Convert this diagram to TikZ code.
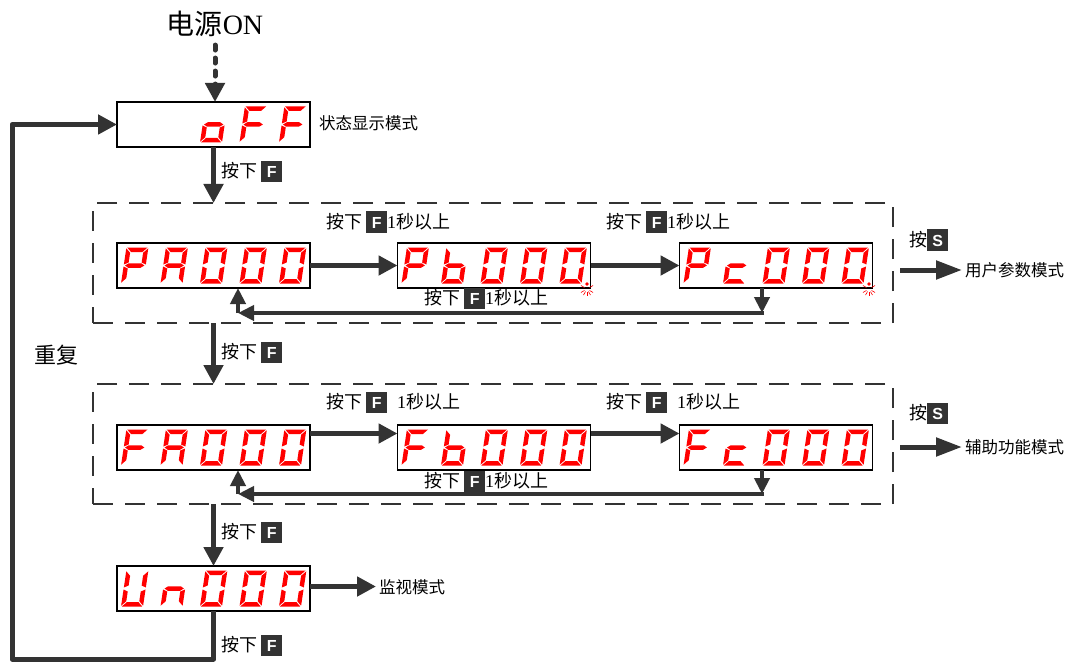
\documentclass[tikz,border=0pt]{standalone}
\usepackage{fontspec}
\setmainfont{Liberation Serif}
\newfontfamily\cjk{Noto Sans CJK SC}
\newfontfamily\keyfont{Liberation Sans}
\usetikzlibrary{arrows.meta}
\definecolor{dk}{HTML}{333333}
\definecolor{segred}{HTML}{FF0000}
\newcommand\key[1]{\textcolor{dk}{\rule[-4.5pt]{21pt}{21pt}}\llap{\makebox[21pt]{\color{white}\keyfont\bfseries\fontsize{16}{16}\selectfont #1}}}
% seven segments, local units: W=22, H=36, T=4.5
\newcommand\sga{\fill[segred] (0.8,36)--(21.2,36)--(16.7,31.5)--(5.3,31.5)--cycle;}
\newcommand\sgd{\fill[segred] (0.8,0)--(21.2,0)--(16.7,4.5)--(5.3,4.5)--cycle;}
\newcommand\sgf{\fill[segred] (0,35.2)--(4.5,30.7)--(4.5,21)--(0,19)--cycle;}
\newcommand\sge{\fill[segred] (0,0.8)--(4.5,5.3)--(4.5,15)--(0,17)--cycle;}
\newcommand\sgb{\fill[segred] (22,35.2)--(17.5,30.7)--(17.5,21)--(22,19)--cycle;}
\newcommand\sgc{\fill[segred] (22,0.8)--(17.5,5.3)--(17.5,15)--(22,17)--cycle;}
\newcommand\sgg{\fill[segred] (1.3,18)--(4.8,20.25)--(17.2,20.25)--(20.7,18)--(17.2,15.75)--(4.8,15.75)--cycle;}
% \dig{box left}{box bottom}{position}{segments}
\newcommand\dig[4]{\begin{scope}[shift={(#1+4+39.5*#3,#2-4.5)},x=1pt,y=1pt,xslant=0.15]
  \foreach \s in {#4}{\csname sg\s\endcsname}\end{scope}}
\newcommand\flash[2]{\fill[segred] (#1,#2) circle (1.8pt);
  \foreach \a in {30,60,90,120,150,210,330}{\draw[segred,line width=0.6pt] ([shift={(\a:3)}]#1,#2+5) -- ([shift={(\a:7)}]#1,#2+5);}}
\begin{document}
\begin{tikzpicture}[x=1pt,y=-1pt,
  disp/.style={draw=black, line width=1.6pt, fill=white, minimum width=193pt, minimum height=45pt, inner sep=0pt, outer sep=0pt},
  grp/.style={draw=dk, line width=2.6pt, dash pattern=on 20pt off 12pt, minimum width=800pt, minimum height=120pt, inner sep=0pt, outer sep=0pt},
  arr/.style={draw=dk, line width=5pt, line join=round, -{Triangle[length=19pt,width=19pt]}},
  rarr/.style={draw=dk, line width=4pt, -{Triangle[length=16pt,width=15pt]}},
  sarr/.style={draw=dk, line width=5pt, -{Triangle[length=26pt,width=18pt]}},
  lab/.style={font=\cjk\fontsize{18}{20}\selectfont, inner sep=0pt, anchor=west},
  mode/.style={font=\cjk\fontsize{16.5}{18}\selectfont, inner sep=3pt, anchor=west}]
\useasboundingbox (0,0) rectangle (1078,663);
\fill[white] (0,0) rectangle (1078,663);

% title
\node[inner sep=0pt, font=\fontsize{28}{30}\selectfont] (pw) at (215,24) {{\cjk 电源}ON};

% group frames
\node[grp] (G1) at (493,263) {};
\node[grp] (G2) at (493,444) {};

% displays
\node[disp] (oFF) at (213.5,124.5) {};
\node[disp] (PA) at (213.5,265.5) {};
\node[disp] (Pb) at (494,265.5) {};
\node[disp] (Pc) at (776,265.5) {};
\node[disp] (FA) at (213.5,447.5) {};
\node[disp] (Fb) at (494,447.5) {};
\node[disp] (Fc) at (776,447.5) {};
\node[disp] (Un) at (213.5,588.5) {};

% display characters
\dig{117}{147}{2}{c,d,e,g}\dig{117}{147}{3}{a,e,f,g}\dig{117}{147}{4}{a,e,f,g}
\dig{117}{288}{0}{a,b,e,f,g}\dig{117}{288}{1}{a,b,c,e,f,g}\dig{117}{288}{2}{a,b,c,d,e,f}\dig{117}{288}{3}{a,b,c,d,e,f}\dig{117}{288}{4}{a,b,c,d,e,f}
\dig{397.5}{288}{0}{a,b,e,f,g}\dig{397.5}{288}{1}{c,d,e,f,g}\dig{397.5}{288}{2}{a,b,c,d,e,f}\dig{397.5}{288}{3}{a,b,c,d,e,f}\dig{397.5}{288}{4}{a,b,c,d,e,f}
\dig{679.5}{288}{0}{a,b,e,f,g}\dig{679.5}{288}{1}{d,e,g}\dig{679.5}{288}{2}{a,b,c,d,e,f}\dig{679.5}{288}{3}{a,b,c,d,e,f}\dig{679.5}{288}{4}{a,b,c,d,e,f}
\flash{587}{284}\flash{869}{284}
\dig{117}{470}{0}{a,e,f,g}\dig{117}{470}{1}{a,b,c,e,f,g}\dig{117}{470}{2}{a,b,c,d,e,f}\dig{117}{470}{3}{a,b,c,d,e,f}\dig{117}{470}{4}{a,b,c,d,e,f}
\dig{397.5}{470}{0}{a,e,f,g}\dig{397.5}{470}{1}{c,d,e,f,g}\dig{397.5}{470}{2}{a,b,c,d,e,f}\dig{397.5}{470}{3}{a,b,c,d,e,f}\dig{397.5}{470}{4}{a,b,c,d,e,f}
\dig{679.5}{470}{0}{a,e,f,g}\dig{679.5}{470}{1}{d,e,g}\dig{679.5}{470}{2}{a,b,c,d,e,f}\dig{679.5}{470}{3}{a,b,c,d,e,f}\dig{679.5}{470}{4}{a,b,c,d,e,f}
\dig{117}{611}{0}{b,c,d,e,f}\dig{117}{611}{1}{c,e,g}\dig{117}{611}{2}{a,b,c,d,e,f}\dig{117}{611}{3}{a,b,c,d,e,f}\dig{117}{611}{4}{a,b,c,d,e,f}

% texts
\node[mode] (st) at (316,123) {状态显示模式};
\node[lab] (l1) at (221,172) {按下 \key{F}};
\node[lab] (l2) at (326,222) {按下 \key{F}{\rmfamily 1}秒以上};
\node[lab] (l3) at (606,222) {按下 \key{F}{\rmfamily 1}秒以上};
\node[lab] (l4) at (424,298) {按下 \key{F}{\rmfamily 1}秒以上};
\node[lab] (s1) at (909,240) {按\key{S}};
\node[mode] (m1) at (962,270) {用户参数模式};
\node[lab] (l5) at (221,352) {按下 \key{F}};
\node[font=\cjk\fontsize{22}{24}\selectfont, inner sep=0pt] (rep) at (56,355) {重复};
\node[lab] (l6) at (326,402) {按下 \key{F}\hspace{10pt}{\rmfamily 1}秒以上};
\node[lab] (l7) at (606,402) {按下 \key{F}\hspace{10pt}{\rmfamily 1}秒以上};
\node[lab] (l8) at (424,481) {按下 \key{F}{\rmfamily 1}秒以上};
\node[lab] (s2) at (909,413) {按\key{S}};
\node[mode] (m2) at (962,447) {辅助功能模式};
\node[lab] (l9) at (221,532) {按下 \key{F}};
\node[mode] (mon) at (376,587) {监视模式};
\node[lab] (l10) at (221,645) {按下 \key{F}};

% coordinates
\coordinate (r1) at (762,313);
\coordinate (r2) at (238,313);
\coordinate (r3) at (762,494);
\coordinate (r4) at (238,494);
\coordinate (sa1) at (900,270);
\coordinate (sa2) at (900,447);
\coordinate (lp1) at (12,659);

% connectors
\draw[arr, dash pattern=on 5pt off 8pt, line cap=round, shorten <=8pt] (pw.south) -- (pw.south |- oFF.north);
\draw[arr] (oFF.south) -- (oFF.south |- G1.north);
\draw[arr] (PA.east) -- (Pb.west);
\draw[arr] (Pb.east) -- (Pc.west);
\draw[rarr] (r1 |- Pc.south) -- (r1);
\draw[rarr] ([xshift=2pt]r1) -- (r2);
\draw[rarr] (r2) -- (r2 |- PA.south);
\draw[sarr] (sa1) -- (sa1 -| m1.west);
\draw[arr] (PA.south |- G1.south) -- (PA.south |- G2.north);
\draw[arr] ([yshift=14pt]FA.east) -- ([yshift=14pt]Fb.west);
\draw[arr] ([yshift=14pt]Fb.east) -- ([yshift=14pt]Fc.west);
\draw[rarr] (r3 |- Fc.south) -- (r3);
\draw[rarr] ([xshift=2pt]r3) -- (r4);
\draw[rarr] (r4) -- (r4 |- FA.south);
\draw[sarr] (sa2) -- (sa2 -| m2.west);
\draw[arr] (PA.south |- G2.south) -- (Un.north);
\draw[arr] ([yshift=2pt]Un.east) -- ([yshift=2pt]Un.east -| mon.west);
\draw[arr] (Un.south) |- (lp1) -- (lp1 |- oFF.west) -- (oFF.west);
\end{tikzpicture}
\end{document}
